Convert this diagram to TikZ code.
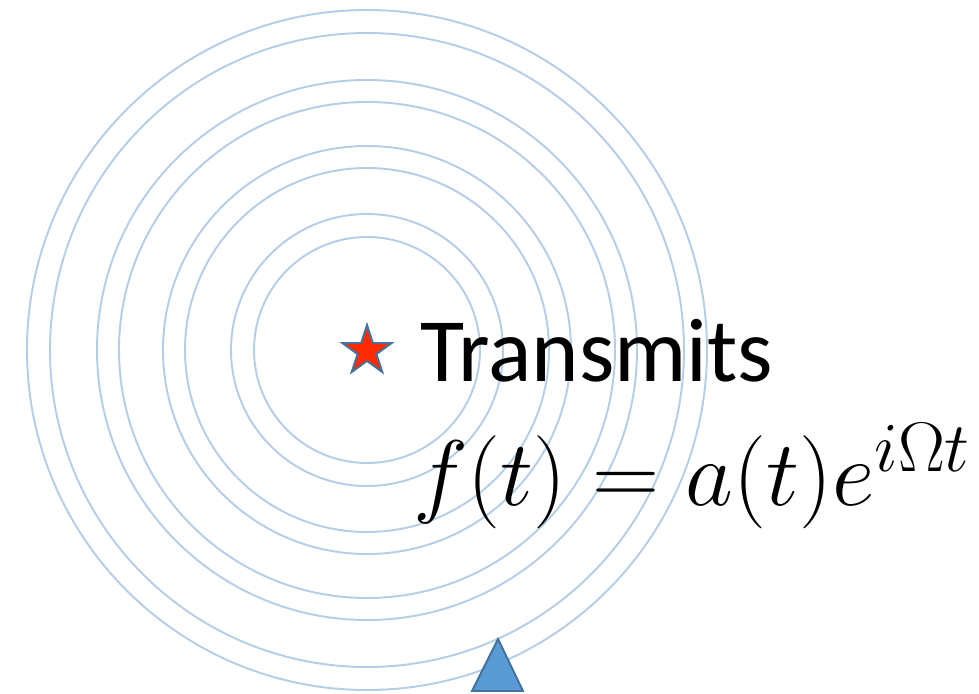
\RequirePackage{fix-cm}
\documentclass[tikz,border=0pt]{standalone}
\usepackage{fontspec}
\newfontfamily\calibri{Carlito}
\usetikzlibrary{shapes.geometric}
\DeclareMathSizes{53}{53}{40}{30}
\definecolor{ring}{RGB}{180,205,232}
\definecolor{edgeblue}{RGB}{65,113,156}
\definecolor{fillblue}{RGB}{91,155,213}
\definecolor{starred}{RGB}{255,42,0}
\begin{document}
\begin{tikzpicture}[x=0.02cm,y=-0.02cm,every node/.style={inner sep=0pt, outer sep=0pt},
  ring/.style={draw=ring, line width=1.1pt}]
\useasboundingbox (0,0) rectangle (979,693);
\draw[ring] (367,350) circle[radius=340];
\draw[ring] (367,350) circle[radius=317];
\draw[ring] (367,350) circle[radius=270];
\draw[ring] (367,350) circle[radius=248];
\draw[ring] (367,350) circle[radius=204];
\draw[ring] (367,350) circle[radius=182];
\draw[ring] (367,350) circle[radius=136];
\draw[ring] (367,350) circle[radius=113];
\node[star, star points=5, star point ratio=2.618, minimum size=1.04cm, fill=starred, draw=edgeblue, line width=1.1pt] (tx) at (367,351) {};
\node[anchor=base west] (label) at (420,381) {\calibri\fontsize{51.5}{60}\selectfont Transmits};
\node[anchor=base west] (eq) at (413,505) {\fontsize{53}{64}\selectfont $f(t)=a(t)e^{i\Omega t}$};
\draw[fill=fillblue, draw=edgeblue, line width=1.1pt] (472,691) -- (498,639) -- (523,691) -- cycle;
\end{tikzpicture}
\end{document}
